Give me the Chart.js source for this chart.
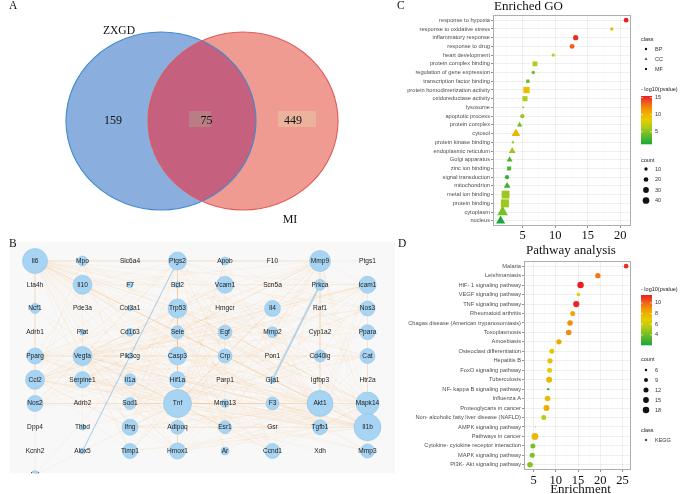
<!DOCTYPE html>
<html><head><meta charset="utf-8">
<script src="https://cdn.jsdelivr.net/npm/chart.js@4.4.1/dist/chart.umd.min.js"></script>
<style>
html,body{margin:0;padding:0;background:#fff;}
#wrap{position:relative;width:700px;height:494px;overflow:hidden;background:#fff;}
canvas{position:absolute;left:0;top:0;}
</style></head><body>
<div id="wrap">
<canvas id="cA" width="700" height="494"></canvas>
<canvas id="cB" width="700" height="494"></canvas>
<canvas id="cC" width="700" height="494"></canvas>
<canvas id="cD" width="700" height="494"></canvas>
</div>
<script>
// ---------------- DATA ----------------
// Panel A (Venn)
const vennSets = ['ZXGD', 'MI'];
const vennCounts = [159, 75, 449]; // only ZXGD, shared, only MI

// Panel B (network, grid layout row-major, 8 per row)
const nodeNames = [
 'Il6','Mpo','Slc6a4','Ptgs2','Apob','F10','Mmp9','Ptgs1',
 'Lta4h','Il10','F7','Bcl2','Vcam1','Scn5a','Prkca','Icam1',
 'Ncf1','Pde3a','Col3a1','Trp53','Hmgcr','Il4','Raf1','Nos3',
 'Adrb1','Plat','Cd163','Sele','Egf','Mmp2','Cyp1a2','Ppara',
 'Pparg','Vegfa','Pik3cg','Casp3','Crp','Pon1','Cd40lg','Cat',
 'Ccl2','Serpine1','Il1a','Hif1a','Parp1','Gja1','Igfbp3','Htr2a',
 'Nos2','Adrb2','Sod1','Tnf','Mmp13','F3','Akt1','Mapk14',
 'Dpp4','Thbd','Ifng','Adipoq','Esr1','Gsr','Tgfb1','Il1b',
 'Kcnh2','Alox5','Timp1','Hmox1','Ar','Ccnd1','Xdh','Mmp3',
 'Lpl'];
const nodeSizes = [
 12.5,5,0,9,4,0,10.5,0,
 0,9.5,3,3,8.5,0,5.5,8.5,
 5,0,2.5,9.5,0,8,0,7.5,
 0,3,4,6.5,7,5.5,0,7.5,
 8,9.5,3,9,7,0,6,7.5,
 9.5,8,6,8,0,3.5,0,0,
 8,0,6,14,4,6.5,13,11.5,
 0,3,8,7,6.5,0,7.5,13.5,
 0,3,7.5,8,4,7.5,0,7,
 4];
const hubNames = ['Il6','Tnf','Akt1','Il1b','Mmp9','Vegfa','Ptgs2','Trp53','Casp3','Ccl2','Pparg','Icam1','Mapk14','Hif1a','Egf','Tgfb1','Sod1','Apob'];
const hubTargets = [
 ['Mpo','Ptgs2','Mmp9','Il10','Vcam1','Icam1','Trp53','Il4','Nos3','Sele','Egf','Mmp2','Ppara','Pparg','Vegfa','Casp3','Crp','Cd40lg','Cat','Ccl2','Serpine1','Il1a','Hif1a','Nos2','Sod1','Tnf','F3','Akt1','Mapk14','Ifng','Adipoq','Esr1','Tgfb1','Il1b','Timp1','Hmox1','Ccnd1','Mmp3','Bcl2','Ncf1','Lta4h','Mmp13','Apob'],
 ['Mpo','Ptgs2','Mmp9','Il10','Vcam1','Icam1','Trp53','Il4','Nos3','Sele','Egf','Mmp2','Ppara','Pparg','Vegfa','Casp3','Crp','Cd40lg','Cat','Ccl2','Serpine1','Il1a','Hif1a','Nos2','Sod1','F3','Akt1','Mapk14','Ifng','Adipoq','Esr1','Tgfb1','Il1b','Timp1','Hmox1','Ccnd1','Mmp3','Bcl2','Ncf1','Mmp13','Thbd','Parp1','Prkca','Apob','Lpl'],
 ['Ptgs2','Mmp9','Il10','Vcam1','Icam1','Trp53','Nos3','Egf','Mmp2','Pparg','Vegfa','Casp3','Ccl2','Serpine1','Hif1a','Nos2','Mapk14','Ifng','Esr1','Tgfb1','Il1b','Hmox1','Ccnd1','Raf1','Prkca','Bcl2','Parp1','Ar','Pik3cg','Igfbp3','Cat','Sod1','Adipoq'],
 ['Mpo','Ptgs2','Mmp9','Il10','Vcam1','Icam1','Trp53','Il4','Nos3','Sele','Egf','Mmp2','Ppara','Pparg','Vegfa','Casp3','Crp','Cd40lg','Cat','Ccl2','Serpine1','Il1a','Hif1a','Nos2','Sod1','F3','Mapk14','Ifng','Tgfb1','Timp1','Hmox1','Mmp3','Mmp13','Adipoq'],
 ['Ptgs2','Il10','Vcam1','Icam1','Trp53','Egf','Mmp2','Vegfa','Casp3','Ccl2','Serpine1','Hif1a','Mapk14','Tgfb1','Timp1','Hmox1','Mmp3','Mmp13','Cd40lg','Ccnd1','Esr1','Prkca','Sele','Crp','Nos2'],
 ['Ptgs2','Il10','Vcam1','Icam1','Trp53','Nos3','Egf','Mmp2','Pparg','Casp3','Ccl2','Serpine1','Hif1a','Nos2','Mapk14','Ifng','Esr1','Tgfb1','Hmox1','Ccnd1','Prkca','Plat','Thbd','F3','Timp1','Adipoq'],
 ['Il10','Trp53','Nos3','Egf','Pparg','Casp3','Ccl2','Hif1a','Nos2','Mapk14','Ifng','Esr1','Tgfb1','Hmox1','Ccnd1','Ptgs1','Sod1','Ppara','Adipoq','Crp'],
 ['Casp3','Bcl2','Ccnd1','Hif1a','Parp1','Esr1','Egf','Mapk14','Tgfb1','Hmox1','Sod1','Nos2','Ifng','Ar','Igfbp3','Pparg','Cat'],
 ['Bcl2','Parp1','Il10','Hif1a','Nos2','Mapk14','Ifng','Hmox1','Sod1','Cat','Ccl2','Icam1'],
 ['Il10','Vcam1','Icam1','Il4','Sele','Crp','Cd40lg','Nos2','Ifng','Tgfb1','Timp1','Hmox1','Mmp3','Pparg','Adipoq','Ncf1','Mpo'],
 ['Ppara','Adipoq','Cat','Nos3','Hmox1','Esr1','Il10','Icam1','Vcam1','Ccnd1','Lpl','Crp'],
 ['Vcam1','Sele','Il10','Il4','Ifng','Nos3','Crp','Hmox1','Cd40lg','Tgfb1'],
 ['Il10','Egf','Ifng','Hif1a','Tgfb1','Hmox1','Nos2','Ccnd1','Il4','Raf1'],
 ['Nos3','Hmox1','Egf','Serpine1','Nos2','Ccnd1','Sod1','Cat','Esr1'],
 ['Esr1','Tgfb1','Ccnd1','Hmox1','Serpine1','Mmp2','Timp1','Raf1','Prkca'],
 ['Il10','Il4','Ifng','Timp1','Mmp2','Serpine1','Hmox1','Mmp3','Mmp13'],
 ['Cat','Hmox1','Nos3','Ncf1','Mpo','Xdh','Gsr'],
 ['Lpl','Crp','Pon1','Ppara','Adipoq']
];
const blueEdges = [['Ptgs2','Alox5'], ['Prkca','Gja1']];

// Panel C (GO)
const goTerms = ['response to hypoxia','response to oxidative stress','inflammatory response','response to drug','heart development','protein complex binding','regulation of gene expression','transcription factor binding','protein homodimerization activity','oxidoreductase activity','lysosome','apoptotic process','protein complex','cytosol','protein kinase binding','endoplasmic reticulum','Golgi apparatus','zinc ion binding','signal transduction','mitochondrion','metal ion binding','protein binding','cytoplasm','nucleus'];
const goClass = ['BP','BP','BP','BP','BP','MF','BP','MF','MF','MF','CC','BP','CC','CC','MF','CC','CC','MF','BP','CC','MF','MF','CC','CC'];
const goEnrichment = [20.9,18.7,13.15,12.6,9.7,6.9,6.64,5.8,5.6,5.36,5.1,4.95,4.54,3.97,3.5,3.4,3.0,2.92,2.6,2.62,2.38,2.28,1.92,1.62];
const goLogP = [15.5,9.5,15.0,13.4,7.3,6.3,4.2,4.0,9.2,6.3,4.9,5.6,4.2,9.9,5.6,5.6,3.1,3.1,2.5,2.5,5.6,5.8,4.5,1.4];
const goCount = [20,10,25,22,10,14,10,7,25,16,2,16,11,30,3,18,14,10,16,18,38,40,45,32];
const goClassLevels = ['BP','CC','MF'];
const goCountBreaks = [10,20,30,40];
const goColorBreaks = [5,10,15];

// Panel D (KEGG)
const keggTerms = ['Malaria','Leishmaniasis','HIF- 1 signaling pathway','VEGF signaling pathway','TNF signaling pathway','Rheumatoid arthritis','Chagas disease (American trypanosomiasis)','Toxoplasmosis','Amoebiasis','Osteoclast differentiation','Hepatitis B','FoxO signaling pathway','Tuberculosis','NF- kappa B signaling pathway','Influenza A','Proteoglycans in cancer','Non- alcoholic fatty liver disease (NAFLD)','AMPK signaling pathway','Pathways in cancer','Cytokine- cytokine receptor interaction','MAPK signaling pathway','PI3K- Akt signaling pathway'];
const keggEnrichment = [25.8,19.45,15.56,15.1,14.6,13.8,13.2,12.9,10.7,9.1,8.7,8.6,8.5,8.3,8.15,7.9,7.3,5.45,5.3,4.85,4.7,4.2];
const keggLogP = [11.2,9.6,11.5,6.8,11.3,8.5,9.1,9.1,8.2,7.0,7.4,6.8,7.7,3.0,7.5,8.1,5.7,2.1,7.7,4.2,4.2,4.5];
const keggCount = [11,13,18,8,17,12,14,14,13,12,13,12,16,6,14,16,12,5,19,12,12,14];
const keggCountBreaks = [6,9,12,15,18];
const keggColorBreaks = [4,6,8,10];

// ---------------- HELPERS ----------------
const SERIF = "'Liberation Serif','Times New Roman',serif";
const SANS = "'Liberation Sans',Arial,sans-serif";
const rampStops = [[0,[26,168,58]],[0.35,[176,204,24]],[0.5,[230,205,0]],[0.7,[242,160,0]],[0.85,[240,98,28]],[1,[236,28,36]]];
function ramp(t){
  t = Math.max(0, Math.min(1, t));
  for (let i = 1; i < rampStops.length; i++) {
    if (t <= rampStops[i][0]) {
      const [t0,c0] = rampStops[i-1], [t1,c1] = rampStops[i];
      const f = (t - t0) / (t1 - t0);
      return 'rgb(' + c0.map((c,k)=>Math.round(c + (c1[k]-c)*f)).join(',') + ')';
    }
  }
  return 'rgb(236,28,36)';
}
function txt(ctx, s, x, y, font, color, align, base){
  ctx.save(); ctx.font = font; ctx.fillStyle = color; ctx.textAlign = align || 'left';
  ctx.textBaseline = base || 'middle'; ctx.fillText(s, x, y); ctx.restore();
}
function colorbar(ctx, x0, y0, w, h, vmin, vmax, breaks){
  for (let i = 0; i < h; i++) { ctx.fillStyle = ramp(1 - (i + 0.5) / h); ctx.fillRect(x0, y0 + i, w, 1.3); }
  breaks.forEach(v => {
    const yy = y0 + (vmax - v) / (vmax - vmin) * h;
    ctx.strokeStyle = '#fff'; ctx.lineWidth = 0.6;
    ctx.beginPath(); ctx.moveTo(x0, yy); ctx.lineTo(x0 + 2, yy); ctx.moveTo(x0 + w - 2, yy); ctx.lineTo(x0 + w, yy); ctx.stroke();
    txt(ctx, String(v), x0 + w + 3, yy, '5.5px ' + SANS, '#333');
  });
}
function glyph(ctx, shape, x, y, r, color){
  ctx.save(); ctx.fillStyle = color; ctx.beginPath();
  if (shape === 'circle') ctx.arc(x, y, r, 0, Math.PI*2);
  else if (shape === 'rect') ctx.rect(x - r*0.85, y - r*0.85, r*1.7, r*1.7);
  else { ctx.moveTo(x, y - r*1.2); ctx.lineTo(x + r*1.05, y + r*0.65); ctx.lineTo(x - r*1.05, y + r*0.65); ctx.closePath(); }
  ctx.fill(); ctx.restore();
}
const minorGrid = 'rgba(0,0,0,0.045)', majorGrid = 'rgba(0,0,0,0.085)';

// ---------------- PANEL A: VENN ----------------
const vennPlugin = {
  id: 'venn',
  afterDraw(chart){
    const {ctx, scales:{x, y}} = chart;
    const geo = {c1:[161,121], c2:[243,121], rx:95, ry:89};
    const px = v => x.getPixelForValue(v), py = v => y.getPixelForValue(v);
    const rx = Math.abs(px(geo.rx) - px(0)), ry = Math.abs(py(geo.ry) - py(0));
    const ell = c => { ctx.beginPath(); ctx.ellipse(px(c[0]), py(c[1]), rx, ry, 0, 0, Math.PI*2); };
    ctx.save();
    ell(geo.c1); ctx.fillStyle = '#8aaede'; ctx.fill();
    ell(geo.c2); ctx.fillStyle = '#ef9b91'; ctx.fill();
    ctx.save(); ell(geo.c1); ctx.clip(); ell(geo.c2); ctx.fillStyle = '#c5607f'; ctx.fill(); ctx.restore();
    ctx.lineWidth = 1.1;
    ell(geo.c1); ctx.strokeStyle = '#3f8bd0'; ctx.stroke();
    ell(geo.c2); ctx.strokeStyle = '#e25a5c'; ctx.stroke();
    ctx.fillStyle = '#b97d86'; ctx.fillRect(px(189), py(111), px(211)-px(189), py(127)-py(111));
    ctx.fillStyle = '#ebb39c'; ctx.fillRect(px(278), py(111), px(316)-px(278), py(127)-py(111));
    const f = '12px ' + SERIF;
    txt(ctx, String(vennCounts[0]), px(113), py(121), f, '#111', 'center');
    txt(ctx, String(vennCounts[1]), px(206.5), py(121), f, '#111', 'center');
    txt(ctx, String(vennCounts[2]), px(293), py(121), f, '#111', 'center');
    txt(ctx, vennSets[0], px(119), py(31), '11.5px ' + SERIF, '#111', 'center');
    txt(ctx, vennSets[1], px(290), py(220), '12px ' + SERIF, '#111', 'center');
    txt(ctx, 'A', px(9), py(9), '11.5px ' + SERIF, '#111', 'left', 'alphabetic');
    ctx.restore();
  }
};
new Chart(document.getElementById('cA'), {
  type: 'scatter',
  data: {datasets: []},
  options: {
    responsive: false, animation: false, devicePixelRatio: 1,
    layout: {padding: {left: 0, top: 0, right: 340, bottom: 259}},
    plugins: {legend: {display: false}, tooltip: {enabled: false}},
    scales: {x: {type: 'linear', min: 0, max: 360, display: false},
             y: {type: 'linear', min: 0, max: 235, reverse: true, display: false}}
  },
  plugins: [vennPlugin]
});

// ---------------- PANEL B: NETWORK ----------------
const NCOL = 8;
const nodeIndex = {}; nodeNames.forEach((n,i) => nodeIndex[n] = i);
const edgeSet = new Set(); const edges = [];
hubNames.forEach((h, k) => hubTargets[k].forEach(t => {
  const key = [h, t].sort().join('|');
  if (h !== t && !edgeSet.has(key) && nodeIndex[t] !== undefined) { edgeSet.add(key); edges.push([h, t]); }
}));
const netPlugin = {
  id: 'net',
  beforeDatasetsDraw(chart){
    const {ctx, scales:{x, y}} = chart;
    const bb = {x0: -0.53, x1: 7.58, y0: -0.8, y1: 8.94};
    const X0 = x.getPixelForValue(bb.x0), X1 = x.getPixelForValue(bb.x1);
    const Y0 = y.getPixelForValue(bb.y0), Y1 = y.getPixelForValue(bb.y1);
    ctx.save();
    ctx.fillStyle = '#f8f8f8'; ctx.fillRect(X0, Y0, X1 - X0, Y1 - Y0);
    ctx.beginPath(); ctx.rect(X0, Y0, X1 - X0, Y1 - Y0); ctx.clip();
    const pos = n => { const i = nodeIndex[n]; return [x.getPixelForValue(i % NCOL), y.getPixelForValue(Math.floor(i / NCOL))]; };
    ctx.lineWidth = 0.6; ctx.strokeStyle = 'rgba(244,190,120,0.2)';
    edges.forEach(([a, b]) => { const p = pos(a), q = pos(b); ctx.beginPath(); ctx.moveTo(p[0], p[1]); ctx.lineTo(q[0], q[1]); ctx.stroke(); });
    blueEdges.forEach(([a, b], k) => { const p = pos(a), q = pos(b);
      ctx.strokeStyle = 'rgba(170,202,224,0.8)'; ctx.lineWidth = k ? 2 : 1.2;
      ctx.beginPath(); ctx.moveTo(p[0], p[1]); ctx.lineTo(q[0], q[1]); ctx.stroke(); });
  },
  afterDatasetsDraw(chart){
    const {ctx, scales:{x, y}} = chart;
    nodeNames.forEach((n, i) => {
      txt(ctx, n, x.getPixelForValue(i % NCOL), y.getPixelForValue(Math.floor(i / NCOL)), '6.6px ' + SANS, '#222', 'center');
    });
    ctx.restore();
  },
  afterDraw(chart){
    txt(chart.ctx, 'B', 9, 247, '11.5px ' + SERIF, '#111', 'left', 'alphabetic');
  }
};
new Chart(document.getElementById('cB'), {
  type: 'bubble',
  data: {datasets: [{
    data: nodeNames.map((n, i) => ({x: i % NCOL, y: Math.floor(i / NCOL), r: nodeSizes[i]})).filter(d => d.r > 0),
    backgroundColor: '#a7d4f2', borderColor: '#90c4e8', borderWidth: 0.6, clip: false
  }]},
  options: {
    responsive: false, animation: false, devicePixelRatio: 1,
    layout: {padding: {left: 35, top: 261, right: 332.5, bottom: 19.25}},
    plugins: {legend: {display: false}, tooltip: {enabled: false}},
    scales: {x: {type: 'linear', min: 0, max: 7, display: false},
             y: {type: 'linear', min: 0, max: 9, reverse: true, display: false}}
  },
  plugins: [netPlugin]
});

// ---------------- PANELS C & D: DOT PLOTS ----------------
const shapeOf = {BP: 'circle', CC: 'triangle', MF: 'rect', KEGG: 'circle'};
const shapeK = {circle: 1, triangle: 1.74, rect: 1.69};
const goR = c => 0.53 * Math.sqrt(c);
const kMin = Math.min(...keggCount), kMax = Math.max(...keggCount);
const keggR = c => 0.45 + 2.9 * Math.sqrt(Math.max(0, (c - kMin) / (kMax - kMin)));

function dotChart(canvasId, cfg){
  const vmin = Math.min(...cfg.logp), vmax = Math.max(...cfg.logp);
  const n = cfg.terms.length;
  const plugin = {
    id: 'panel' + canvasId,
    afterDraw(chart){
      const {ctx, chartArea: a} = chart;
      ctx.save();
      ctx.strokeStyle = '#adadad'; ctx.lineWidth = 1;
      ctx.strokeRect(a.left + 0.5, a.top + 0.5, a.right - a.left - 1, a.bottom - a.top - 1);
      ctx.restore();
      cfg.decor(ctx, a, vmin, vmax);
    }
  };
  new Chart(document.getElementById(canvasId), {
    type: 'scatter',
    data: {datasets: [{
      data: cfg.terms.map((t, i) => ({x: cfg.enr[i], y: i})),
      pointStyle: c => shapeOf[cfg.cls[c.dataIndex]],
      pointRadius: c => cfg.rf(cfg.count[c.dataIndex]) * shapeK[shapeOf[cfg.cls[c.dataIndex]]],
      backgroundColor: c => ramp((cfg.logp[c.dataIndex] - vmin) / (vmax - vmin)),
      borderWidth: 0, clip: false
    }]},
    options: {
      responsive: false, animation: false, devicePixelRatio: 1,
      layout: {padding: cfg.padding},
      plugins: {legend: {display: false}, tooltip: {enabled: false}},
      scales: {
        x: {type: 'linear', min: cfg.xmin, max: cfg.xmax,
            afterBuildTicks: s => { s.ticks = cfg.xticks.map(v => ({value: v})); },
            afterFit: s => { s.height = 20; },
            ticks: {callback: v => (v % 5 === 0 ? String(v) : ''), font: {family: SERIF, size: 12.5}, color: '#111', padding: cfg.xpad, maxRotation: 0, minRotation: 0, autoSkip: false},
            grid: {color: c => (c.tick && c.tick.value % 5 === 0 ? majorGrid : minorGrid), lineWidth: c => (c.tick && c.tick.value % 5 === 0 ? 0.7 : 0.45),
                   tickLength: 2, tickColor: c => (c.tick && c.tick.value % 5 === 0 ? '#444' : 'rgba(0,0,0,0)'), tickWidth: 0.6},
            border: {display: false}},
        y: {type: 'linear', reverse: true, min: -cfg.yexp, max: n - 1 + cfg.yexp,
            afterBuildTicks: s => { s.ticks = cfg.terms.map((t, i) => ({value: i})); },
            afterFit: s => { s.width = cfg.yw; },
            ticks: {callback: v => cfg.terms[v], font: {family: SANS, size: 5.7}, color: '#4d4d4d', padding: 1, autoSkip: false},
            grid: {color: majorGrid, lineWidth: 0.7, tickLength: 2, tickColor: '#444', tickWidth: 0.6},
            border: {display: false}}
      }
    },
    plugins: [plugin]
  });
}

dotChart('cC', {
  terms: goTerms, cls: goClass, enr: goEnrichment, logp: goLogP, count: goCount, rf: goR,
  xmin: 0.45, xmax: 21.65, xticks: [2.5,5,7.5,10,12.5,15,17.5,20], xpad: 0, yexp: 0.6, yw: 97,
  padding: {left: 396, top: 15, right: 69, bottom: 494 - 226 - 20},
  decor(ctx, a, vmin, vmax){
    txt(ctx, 'Enriched GO', a.left + 1, 10, '13px ' + SERIF, '#111', 'left', 'alphabetic');
    txt(ctx, 'C', 397, 9, '11.5px ' + SERIF, '#111', 'left', 'alphabetic');
    const lf = '5.5px ' + SANS;
    txt(ctx, 'class', 641, 39, lf, '#222');
    goClassLevels.forEach((c, i) => { glyph(ctx, shapeOf[c], 646, 49 + i*10, 1.2, '#111'); txt(ctx, c, 655, 49 + i*10, lf, '#333'); });
    txt(ctx, '- log10(pvalue)', 641, 89, lf, '#222');
    colorbar(ctx, 641, 96, 11, 48, vmin, vmax, goColorBreaks);
    txt(ctx, 'count', 641, 160, lf, '#222');
    const ys = [169, 179.5, 190, 200.5];
    goCountBreaks.forEach((c, i) => { glyph(ctx, 'circle', 646, ys[i], goR(c), '#111'); txt(ctx, String(c), 655, ys[i], lf, '#333'); });
  }
});

dotChart('cD', {
  terms: keggTerms, cls: keggTerms.map(() => 'KEGG'), enr: keggEnrichment, logp: keggLogP, count: keggCount, rf: keggR,
  xmin: 2.85, xmax: 26.9, xticks: [5,7.5,10,12.5,15,17.5,20,22.5,25], xpad: 1, yexp: 0.55, yw: 126,
  padding: {left: 398, top: 261, right: 69, bottom: 494 - 470 - 20},
  decor(ctx, a, vmin, vmax){
    txt(ctx, 'Pathway analysis', a.left + 2, 253.5, '13px ' + SERIF, '#111', 'left', 'alphabetic');
    txt(ctx, 'Enrichment', (a.left + a.right) / 2 + 3, 493, '13px ' + SERIF, '#111', 'center', 'alphabetic');
    txt(ctx, 'D', 398, 247, '11.5px ' + SERIF, '#111', 'left', 'alphabetic');
    const lf = '5.5px ' + SANS;
    txt(ctx, '- log10(pvalue)', 641, 289, lf, '#222');
    colorbar(ctx, 641, 295, 11, 50, vmin, vmax, keggColorBreaks);
    txt(ctx, 'count', 641, 359, lf, '#222');
    keggCountBreaks.forEach((c, i) => { glyph(ctx, 'circle', 646, 370 + i*10, keggR(c), '#111'); txt(ctx, String(c), 655, 370 + i*10, lf, '#333'); });
    txt(ctx, 'class', 641, 430, lf, '#222');
    glyph(ctx, 'circle', 646, 440, 1.1, '#111'); txt(ctx, 'KEGG', 655, 440, lf, '#333');
  }
});
</script>
</body></html>
